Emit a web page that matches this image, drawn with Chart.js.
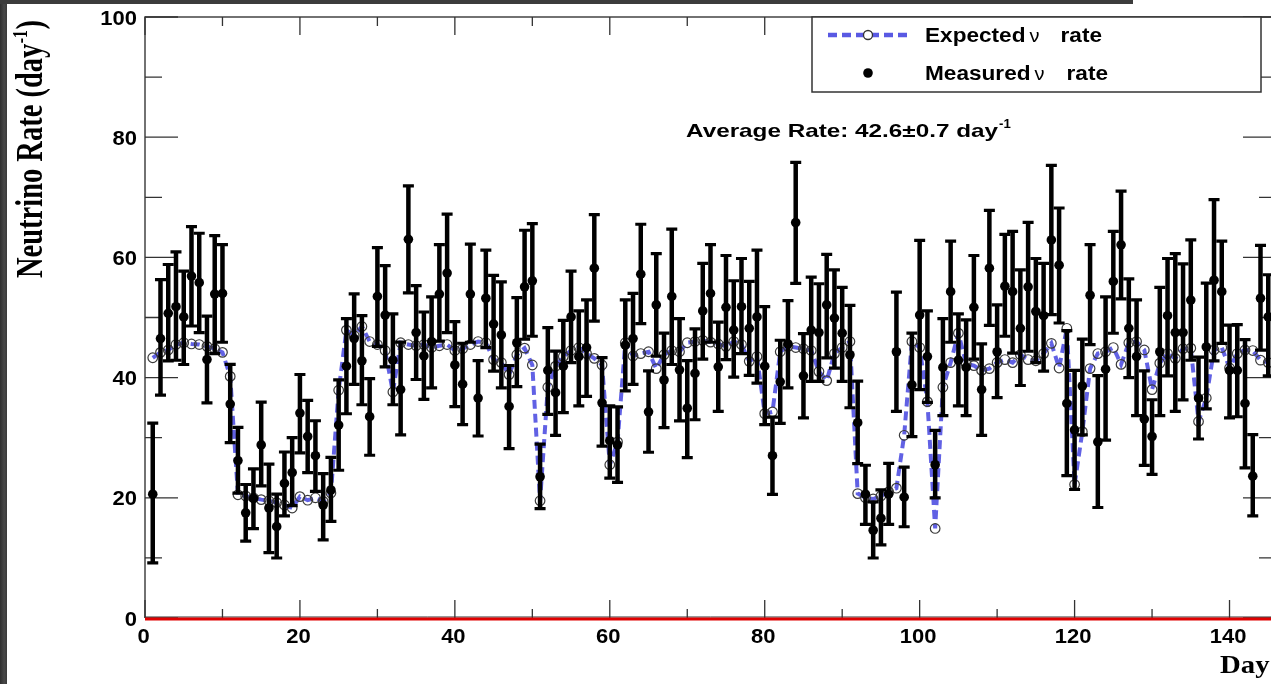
<!DOCTYPE html>
<html>
<head>
<meta charset="utf-8">
<script src="https://cdn.jsdelivr.net/npm/chart.js@4.4.1/dist/chart.umd.min.js"></script>
<style>
  html, body { margin: 0; padding: 0; background: #ffffff; overflow: hidden; width: 1271px; height: 684px; }
  #wrap { position: absolute; left: 0; top: 0; width: 1290px; height: 684px; }
  #stripL { position: absolute; left: 0; top: 0; width: 7px; height: 684px; background: linear-gradient(90deg,#2e2e2e,#484848 60%,#3a3a3a); z-index: 5; }
  #stripT { position: absolute; left: 0; top: 0; width: 1133px; height: 4px; background: #3c3c3c; z-index: 5; }
</style>
</head>
<body>
<div id="wrap"><canvas id="c" width="1290" height="684" style="width:1290px;height:684px"></canvas></div>
<div id="stripL"></div>
<div id="stripT"></div>
<script>
// ---------------- data ----------------
const days = [1,2,3,4,5,6,7,8,9,10,11,12,13,14,15,16,17,18,19,20,21,22,23,24,25,26,27,28,29,30,
  31,32,33,34,35,36,37,38,39,40,41,42,43,44,45,46,47,48,49,50,51,52,53,54,55,56,57,58,59,60,
  61,62,63,64,65,66,67,68,69,70,71,72,73,74,75,76,77,78,79,80,81,82,83,84,85,86,87,88,89,90,
  91,92,93,94,95,96,97,98,99,100,101,102,103,104,105,106,107,108,109,110,111,112,113,114,115,
  116,117,118,119,120,121,122,123,124,125,126,127,128,129,130,131,132,133,134,135,136,137,138,
  139,140,141,142,143,144,145];

const measured = [20.6,46.5,50.7,51.8,50.1,56.9,55.8,43.0,53.9,54.0,35.6,26.2,17.5,19.9,28.8,18.3,15.2,22.4,24.2,34.1,
  30.2,27.0,18.8,21.3,32.1,41.9,46.5,42.8,33.5,53.5,50.4,42.9,38.0,63.0,47.5,43.6,46.0,53.9,57.4,42.1,
  38.9,53.9,36.6,53.2,48.9,47.1,35.2,45.8,55.1,56.1,23.5,41.2,37.5,41.9,50.1,43.5,45.0,58.2,35.8,29.5,
  28.8,45.4,46.5,57.2,34.3,52.1,39.6,53.5,41.3,34.9,40.7,51.1,54.0,41.8,51.7,47.9,51.8,48.2,50.1,41.9,
  27.0,39.3,45.6,65.8,40.3,47.9,47.5,52.1,49.9,47.4,43.8,32.5,20.6,14.6,16.6,20.6,44.3,20.1,38.8,50.4,
  43.5,25.5,41.7,54.3,42.9,41.7,51.7,38.0,58.2,44.3,55.2,54.3,48.2,55.1,51.0,50.3,62.9,58.7,35.7,31.3,
  38.6,53.7,29.3,41.4,56.0,62.1,48.2,43.5,33.1,30.2,44.3,50.3,47.5,47.5,52.9,36.6,45.1,56.2,54.3,41.2,
  41.2,35.7,23.6,53.2,50.1];

const errLow = [9.1,37.0,42.7,42.8,42.1,48.5,47.4,35.7,43.9,45.8,29.1,20.7,12.7,14.8,21.9,10.8,9.9,16.9,18.6,27.4,
  24.1,21.0,12.9,16.0,24.5,33.9,38.8,35.4,27.0,45.1,41.7,35.4,30.4,54.0,39.6,36.3,38.2,46.0,47.4,35.1,
  32.1,45.8,30.2,44.9,41.0,38.2,28.1,38.4,46.3,46.8,18.1,33.8,30.3,34.1,42.4,35.2,36.8,49.3,28.5,23.2,
  22.5,37.7,38.8,48.9,27.5,43.5,31.6,42.1,32.7,26.6,32.9,43.0,45.8,34.3,42.9,40.0,43.9,40.3,39.0,32.1,
  20.5,32.3,38.2,55.6,33.2,39.3,39.3,43.2,41.5,39.3,34.9,25.6,15.5,9.9,12.1,15.5,34.3,15.1,30.1,37.9,
  35.8,19.9,33.6,45.8,35.2,33.6,43.0,30.3,48.6,36.6,46.8,44.0,38.6,44.3,42.4,41.0,50.4,49.0,23.6,21.3,
  30.4,45.4,18.3,29.5,47.3,53.0,39.9,33.6,25.3,23.8,33.6,40.2,34.3,36.2,42.8,29.7,34.7,42.7,45.6,33.2,
  33.4,24.9,16.9,44.5,40.2];

const errHigh = [32.5,56.4,58.9,61.0,57.8,65.2,64.1,50.3,63.7,62.2,42.3,31.8,22.3,24.9,36.0,25.7,20.7,27.7,30.1,40.6,
  36.3,32.9,24.1,26.8,39.7,49.9,54.0,50.4,39.9,61.7,58.7,50.7,46.0,72.0,55.4,51.0,53.5,62.2,67.3,49.4,
  45.8,62.3,42.9,61.3,57.1,56.0,42.1,53.4,64.6,65.7,29.0,48.4,44.5,49.6,57.8,51.2,53.0,67.2,43.4,35.4,
  35.2,53.0,54.1,65.6,41.2,60.7,47.5,64.8,49.9,42.9,48.2,59.1,62.2,49.3,60.4,56.2,59.9,56.1,61.3,51.9,
  33.5,46.3,52.9,75.9,47.4,56.8,55.7,60.6,58.0,55.1,52.1,39.5,25.5,19.4,21.4,25.8,54.3,25.2,47.5,62.9,
  51.2,31.3,49.9,62.8,50.7,49.7,60.4,45.7,67.9,52.2,63.9,64.4,58.0,65.9,59.9,59.1,75.4,68.3,47.9,41.3,
  46.5,62.2,40.4,53.5,64.4,71.1,56.5,53.0,41.2,36.4,55.1,59.9,60.7,59.0,63.0,43.5,55.8,69.7,62.8,48.8,
  48.9,46.4,30.6,62.1,57.2];

const expected = [43.3,44.2,44.6,45.5,45.8,45.6,45.5,45.2,44.8,44.2,40.2,20.5,20.3,20.0,19.7,19.5,19.2,18.8,18.3,20.2,
  19.6,20.0,19.4,20.8,37.9,47.9,47.0,48.5,46.0,45.5,44.5,37.6,45.8,45.5,45.3,45.5,45.0,45.3,45.5,44.5,
  44.8,45.5,46.0,45.8,43.0,42.5,40.5,43.8,44.9,42.1,19.5,38.4,41.9,43.5,44.5,45.0,44.0,43.2,42.1,25.5,
  29.3,45.8,43.6,44.0,44.3,41.5,43.8,44.5,44.3,45.8,46.0,46.2,45.9,45.6,45.2,46.0,45.5,42.7,43.5,34.0,
  34.3,44.3,45.2,45.0,44.8,44.5,41.0,39.5,44.0,45.0,46.0,20.7,20.0,19.8,20.3,21.0,21.6,30.4,46.0,45.0,
  36.0,14.9,38.4,42.5,47.4,42.3,42.0,41.2,41.5,42.5,43.0,42.5,43.8,43.0,42.8,44.0,45.7,41.6,48.2,22.2,
  31.0,41.5,44.0,44.3,45.0,42.2,45.8,46.0,44.6,38.0,42.4,44.0,43.2,44.8,44.9,32.7,36.6,44.6,45.0,41.6,
  44.0,44.6,44.5,42.9,42.5];

const xMajorTicks = [0,20,40,60,80,100,120,140];
const xMinorTicks = [10,30,50,70,90,110,130];
const yMajorTicks = [0,20,40,60,80,100];
const yMinorTicks = [10,30,50,70,90];
const xRange = [0, 146];
const yRange = [0, 100];

const yTitle = "Neutrino Rate (day";
const xTitle = "Day";
const legendParts = [["Expected", "rate"], ["Measured", "rate"]];
const nuSymbol = "\u03bd";
const avgText = "Average Rate: 42.6\u00b10.7 day";
const supText = "-1";

// ---------------- helpers ----------------
function stretchText(ctx, text, x, y, font, sx, align) {
  ctx.save();
  ctx.font = font;
  const w = ctx.measureText(text).width * sx;
  let x0 = x;
  if (align === 'center') x0 = x - w / 2;
  else if (align === 'right') x0 = x - w;
  ctx.translate(x0, y);
  ctx.scale(sx, 1);
  ctx.textAlign = 'left';
  ctx.fillText(text, 0, 0);
  ctx.restore();
  return w;
}
function fitText(ctx, text, x, y, font, targetW) {
  ctx.save();
  ctx.font = font;
  const sx = targetW / ctx.measureText(text).width;
  ctx.restore();
  return stretchText(ctx, text, x, y, font, sx, 'left');
}

const SANS = "'Liberation Sans', Arial, sans-serif";
const SERIF = "'Liberation Serif', 'Times New Roman', serif";

const decor = {
  id: 'decor',
  beforeDatasetDraw(chart, args) {
    if (args.meta.index !== 0) return;
    const ctx = chart.ctx, xs = chart.scales.x, ys = chart.scales.y;
    ctx.save();
    ctx.strokeStyle = '#000';
    for (let i = 0; i < days.length; i++) {
      const px = xs.getPixelForValue(days[i]);
      const pl = ys.getPixelForValue(errLow[i]);
      const ph = ys.getPixelForValue(errHigh[i]);
      ctx.lineWidth = 4.5;
      ctx.beginPath(); ctx.moveTo(px, pl); ctx.lineTo(px, ph); ctx.stroke();
      ctx.lineWidth = 3.2;
      ctx.beginPath();
      ctx.moveTo(px - 5.5, ph + 0.5); ctx.lineTo(px + 5.5, ph + 0.5);
      ctx.moveTo(px - 5.5, pl - 0.5); ctx.lineTo(px + 5.5, pl - 0.5);
      ctx.stroke();
    }
    ctx.restore();
  },
  beforeDatasetsDraw(chart) {
    const ctx = chart.ctx, xs = chart.scales.x, ys = chart.scales.y;
    const a = chart.chartArea;
    ctx.save();
    ctx.strokeStyle = '#444';
    ctx.lineWidth = 1.5;
    ctx.beginPath();
    ctx.moveTo(a.left, a.bottom); ctx.lineTo(a.left, a.top); ctx.lineTo(a.right, a.top); ctx.lineTo(a.right, a.bottom);
    ctx.stroke();
    ctx.lineWidth = 1.3;
    ctx.strokeStyle = '#333';
    ctx.beginPath();
    for (const t of yMajorTicks) { const p = ys.getPixelForValue(t); ctx.moveTo(a.left, p); ctx.lineTo(a.left + 33, p); ctx.moveTo(a.right, p); ctx.lineTo(a.right - 33, p); }
    for (const t of yMinorTicks) { const p = ys.getPixelForValue(t); ctx.moveTo(a.left, p); ctx.lineTo(a.left + 17, p); ctx.moveTo(a.right, p); ctx.lineTo(a.right - 17, p); }
    for (const t of xMajorTicks) { const p = xs.getPixelForValue(t); ctx.moveTo(p, a.bottom); ctx.lineTo(p, a.bottom - 18); ctx.moveTo(p, a.top); ctx.lineTo(p, a.top + 18); }
    for (const t of xMinorTicks) { const p = xs.getPixelForValue(t); ctx.moveTo(p, a.bottom); ctx.lineTo(p, a.bottom - 9); ctx.moveTo(p, a.top); ctx.lineTo(p, a.top + 9); }
    ctx.stroke();
    ctx.restore();
  },
  afterDraw(chart) {
    const ctx = chart.ctx, xs = chart.scales.x, ys = chart.scales.y;
    const a = chart.chartArea;
    ctx.save();
    const y0 = ys.getPixelForValue(0);
    ctx.strokeStyle = '#333'; ctx.lineWidth = 1;
    ctx.beginPath(); ctx.moveTo(a.left, y0 - 1); ctx.lineTo(a.right, y0 - 1); ctx.stroke();
    ctx.strokeStyle = '#e00000'; ctx.lineWidth = 3;
    ctx.beginPath(); ctx.moveTo(a.left, y0 + 1); ctx.lineTo(a.right, y0 + 1); ctx.stroke();

    ctx.fillStyle = '#000';
    ctx.textBaseline = 'alphabetic';
    for (const t of yMajorTicks) {
      const p = ys.getPixelForValue(t);
      stretchText(ctx, String(t), a.left - 8, p + 7.5, 'bold 20px ' + SANS, 1.1, 'right');
    }
    for (const t of xMajorTicks) {
      const p = xs.getPixelForValue(t);
      stretchText(ctx, String(t), p - 1.5, a.bottom + 25, 'bold 20px ' + SANS, 1.1, 'center');
    }
    stretchText(ctx, xTitle, 1220, 673, 'bold 25px ' + SERIF, 1.15, 'left');

    // y title (rotated)
    ctx.save();
    const mainFont = 'bold 27px ' + SERIF, supFont = 'bold 15px ' + SERIF;
    ctx.font = mainFont; const w1 = ctx.measureText(yTitle).width; const w3 = ctx.measureText(')').width;
    ctx.font = supFont; const w2 = ctx.measureText(supText).width;
    const sx = 258 / (w1 + w2 + w3 + 1);
    ctx.translate(42, 278);
    ctx.rotate(-Math.PI / 2);
    ctx.scale(sx, 1.38);
    ctx.font = mainFont; ctx.fillText(yTitle, 0, 0);
    ctx.font = supFont; ctx.fillText(supText, w1 + 0.5, -11);
    ctx.font = mainFont; ctx.fillText(')', w1 + w2 + 1, 0);
    ctx.restore();

    // legend box
    ctx.fillStyle = '#fff';
    ctx.fillRect(812, 17, 449, 75);
    ctx.strokeStyle = '#333'; ctx.lineWidth = 1.5;
    ctx.strokeRect(812, 17, 449, 75);
    ctx.strokeStyle = 'rgba(80,80,225,0.95)'; ctx.lineWidth = 4.5; ctx.setLineDash([9, 5]);
    ctx.beginPath(); ctx.moveTo(828, 35); ctx.lineTo(908, 35); ctx.stroke();
    ctx.setLineDash([]);
    ctx.fillStyle = '#fff'; ctx.strokeStyle = '#333'; ctx.lineWidth = 1.3;
    ctx.beginPath(); ctx.arc(868, 35, 4.5, 0, Math.PI * 2); ctx.fill(); ctx.stroke();
    ctx.fillStyle = '#000';
    ctx.beginPath(); ctx.arc(868, 73, 4.8, 0, Math.PI * 2); ctx.fill();
    // legend labels: bold words, regular-weight nu
    const legY = [42, 80];
    const legEnd = [1102, 1108];
    for (let k = 0; k < 2; k++) {
      const wA = stretchText(ctx, legendParts[k][0], 925, legY[k], 'bold 20px ' + SANS, 1.13, 'left');
      stretchText(ctx, nuSymbol, 925 + wA + 4, legY[k], '19px ' + SANS, 1.05, 'left');
      ctx.save(); ctx.font = 'bold 20px ' + SANS; const wr = ctx.measureText(legendParts[k][1]).width * 1.13; ctx.restore();
      stretchText(ctx, legendParts[k][1], legEnd[k] - wr, legY[k], 'bold 20px ' + SANS, 1.13, 'left');
    }

    fitText(ctx, avgText, 686, 137, 'bold 19px ' + SANS, 312);
    stretchText(ctx, supText, 999, 128, 'bold 12px ' + SANS, 1.1, 'left');
    ctx.restore();
  }
};

const ctx = document.getElementById('c').getContext('2d');
new Chart(ctx, {
  type: 'scatter',
  data: {
    datasets: [
      {
        label: 'Measured',
        data: days.map((d, i) => ({ x: d, y: measured[i] })),
        showLine: false,
        pointRadius: 4.8,
        pointBackgroundColor: '#000',
        pointBorderColor: '#000',
        pointBorderWidth: 0,
        order: 0
      },
      {
        label: 'Expected',
        data: days.map((d, i) => ({ x: d, y: expected[i] })),
        showLine: true,
        borderColor: 'rgba(80,80,225,0.9)',
        borderWidth: 4,
        borderDash: [9, 5],
        tension: 0,
        pointRadius: 4.8,
        pointBackgroundColor: 'rgba(255,255,255,0)',
        pointBorderColor: '#3a3a3a',
        pointBorderWidth: 1.2,
        order: 1
      }
    ]
  },
  options: {
    responsive: false,
    animation: false,
    devicePixelRatio: 1,
    layout: { padding: { left: 145, right: 14, top: 17, bottom: 66 } },
    plugins: { legend: { display: false }, tooltip: { enabled: false } },
    scales: {
      x: { type: 'linear', min: xRange[0], max: xRange[1], display: false },
      y: { type: 'linear', min: yRange[0], max: yRange[1], display: false }
    }
  },
  plugins: [decor]
});
</script>
</body>
</html>
